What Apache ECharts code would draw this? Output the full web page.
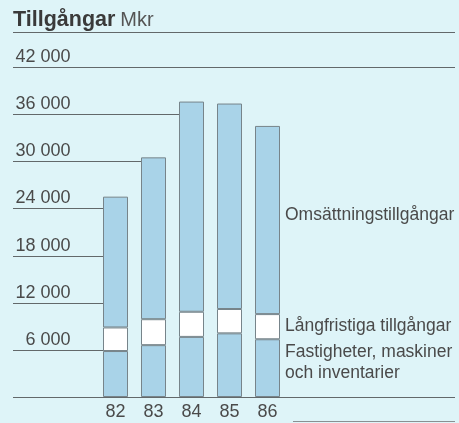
<!DOCTYPE html>
<html>
<head>
<meta charset="utf-8">
<script src="https://cdn.jsdelivr.net/npm/echarts@6/dist/echarts.min.js"></script>
<style>
html, body { margin: 0; padding: 0; background: #def4f8; }
#chart { width: 459px; height: 423px; }
</style>
</head>
<body>
<div id="chart"></div>
<script>
// år och värden (Mkr)
var years = ['82', '83', '84', '85', '86'];
var fastigheter = [5850, 6600, 7650, 8100, 7350];
var langfristiga = [3000, 3300, 3200, 3100, 3200];
var omsattning = [16650, 20600, 26750, 26150, 23950];
var yTicks = [0, 6000, 12000, 18000, 24000, 30000, 36000, 42000];

var seriesNames = ['Fastigheter, maskiner\noch inventarier', 'Långfristiga tillgångar', 'Omsättningstillgångar'];

var totals = years.map(function (y, i) {
    return fastigheter[i] + langfristiga[i] + omsattning[i];
});

var textColor = '#4a4a4a';
var font = 'Liberation Sans';

// sista stapeln bär etiketten till höger
function withLabel(arr, offsetY) {
    return arr.map(function (v, i) {
        if (i < arr.length - 1) return v;
        return {
            value: v,
            label: {
                show: true,
                position: 'right',
                distance: 5,
                offset: [0, offsetY],
                formatter: '{a}',
                color: textColor,
                fontFamily: font,
                fontSize: 17.5,
                lineHeight: 21
            }
        };
    });
}

var barStyle = function (color) {
    return {
        color: color,
        borderColor: '#77848a',
        borderWidth: 1
    };
};

var chart = echarts.init(document.getElementById('chart'));

var option = {
    backgroundColor: '#def4f8',
    animation: false,
    title: {
        left: 13,
        top: 9,
        padding: 0,
        text: '{b|Tillgångar} {r|Mkr}',
        textStyle: {
            rich: {
                b: { fontFamily: font, fontWeight: 'bold', fontSize: 21.5, color: '#3a3a3a' },
                r: { fontFamily: font, fontWeight: 'normal', fontSize: 20, color: '#555' }
            }
        }
    },
    graphic: [
        { type: 'line', shape: { x1: 13, y1: 32.5, x2: 455, y2: 32.5 }, style: { stroke: '#62686a', lineWidth: 1.2 } },
        { type: 'line', shape: { x1: 293, y1: 421.5, x2: 455, y2: 421.5 }, style: { stroke: '#8a9092', lineWidth: 1 } }
    ],
    grid: { left: 96.5, right: 172.5, top: 67, bottom: 26 },
    xAxis: {
        type: 'category',
        data: years,
        axisLine: { show: false },
        axisTick: { show: false },
        axisLabel: { color: textColor, fontFamily: font, fontSize: 18, margin: 6 }
    },
    yAxis: {
        type: 'value',
        min: 0,
        max: 42000,
        interval: 6000,
        splitLine: { show: false },
        axisLine: { show: false },
        axisTick: { show: false },
        axisLabel: {
            showMinLabel: false,
            align: 'right',
            verticalAlign: 'bottom',
            margin: 26,
            padding: [0, 0, 1, 0],
            color: textColor,
            fontFamily: font,
            fontSize: 18,
            formatter: function (v) {
                return String(v).replace(/\B(?=(\d{3})+(?!\d))/g, ' ');
            }
        }
    },
    series: [
        {
            // stödlinjer: går fram till första stapeln som når linjen
            type: 'custom',
            z: 1,
            silent: true,
            data: yTicks.map(function (v) { return [0, v]; }),
            encode: { x: 0, y: 1 },
            renderItem: function (params, api) {
                var v = api.value(1);
                var y = api.coord([0, v])[1];
                var xEnd = 455;
                if (v > 0) {
                    for (var i = 0; i < totals.length; i++) {
                        if (totals[i] >= v) { xEnd = api.coord([i, v])[0]; break; }
                    }
                }
                return {
                    type: 'line',
                    shape: { x1: 13, y1: Math.round(y) + 0.5, x2: xEnd, y2: Math.round(y) + 0.5 },
                    style: { stroke: '#62686a', lineWidth: 1.2 }
                };
            }
        },
        {
            name: seriesNames[0], type: 'bar', stack: 'a', z: 5, barWidth: 25,
            itemStyle: barStyle('#a9d3e8'),
            data: withLabel(fastigheter, -5)
        },
        {
            name: seriesNames[1], type: 'bar', stack: 'a', z: 5, barWidth: 25,
            itemStyle: barStyle('#ffffff'),
            data: withLabel(langfristiga, -1)
        },
        {
            name: seriesNames[2], type: 'bar', stack: 'a', z: 5, barWidth: 25,
            itemStyle: barStyle('#a9d3e8'),
            data: withLabel(omsattning, -5)
        }
    ]
};

chart.setOption(option);
</script>
</body>
</html>
